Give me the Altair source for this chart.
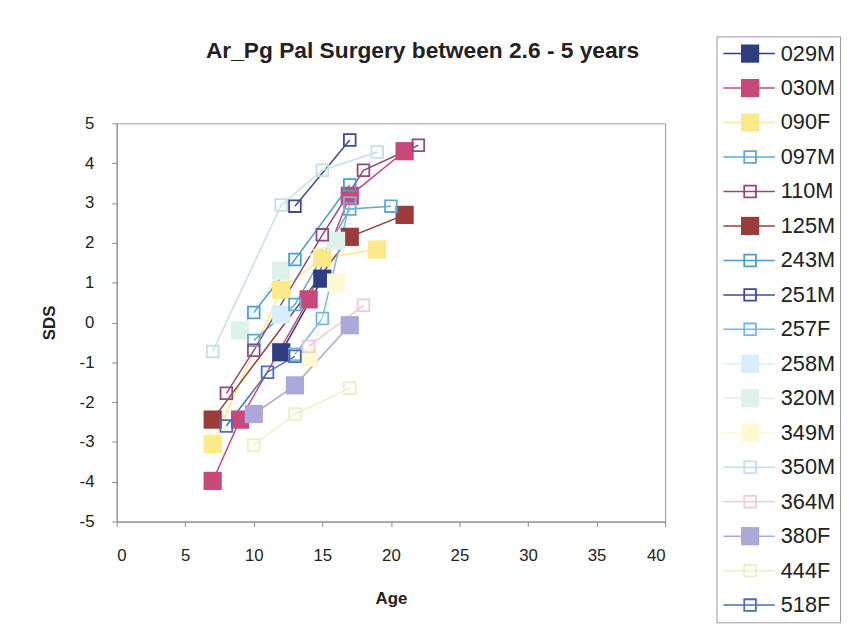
import altair as alt
import pandas as pd

SERIES = ["029M", "030M", "090F", "097M", "110M", "125M", "243M", "251M", "257F",
          "258M", "320M", "349M", "350M", "364M", "380F", "444F", "518F"]
AGES = [
    [12, 15],
    [7, 9, 14, 17, 21],
    [7, 12, 15, 19],
    [10, 13, 17, 20],
    [8, 10, 15, 18, 22],
    [7, 17, 21],
    [10, 13, 17],
    [13, 17],
    [13, 15, 17],
    [12],
    [9, 12, 16],
    [14, 16],
    [7, 12, 15, 19],
    [14, 18],
    [10, 13, 17],
    [10, 13, 17],
    [8, 11, 13],
]
SDS = [
    [-0.75, 1.1],
    [-3.98, -2.44, 0.58, 3.18, 4.3],
    [-3.05, 0.82, 1.62, 1.83],
    [-0.45, 0.45, 2.85, 2.92],
    [-1.78, -0.7, 2.2, 3.82, 4.45],
    [-2.44, 2.15, 2.7],
    [0.25, 1.58, 3.45],
    [2.92, 4.58],
    [-0.8, 0.1, 3.0],
    [0.2],
    [-0.2, 1.3, 2.05],
    [-0.88, 1.0],
    [-0.73, 2.95, 3.82, 4.28],
    [-0.6, 0.43],
    [-2.3, -1.58, -0.07],
    [-3.08, -2.3, -1.65],
    [-2.6, -1.25, -0.85],
]
COLORS = ["#2E3F7F", "#C8487A", "#FCE98A", "#5DA9D5", "#8E4B7E", "#9A3C3C", "#4E9CCB",
          "#3D4A9A", "#78B7E0", "#D8EEFB", "#DDF2E8", "#FFF9D2", "#C3DFEC", "#EDCCD8",
          "#ADA8DA", "#EEEEC4", "#4F6DB3"]
FILLED = [True, True, True, False, False, True, False, False, False,
          True, True, True, False, False, True, False, False]

FONT = "Liberation Sans"

rows = []
for name, ages, vals, filled in zip(SERIES, AGES, SDS, FILLED):
    for a, v in zip(ages, vals):
        rows.append({"series": name, "age": a, "sds": v, "filled": filled})
df = pd.DataFrame(rows)
leg = pd.DataFrame({"series": SERIES, "filled": FILLED})

color = alt.Color("series:N", scale=alt.Scale(domain=SERIES, range=COLORS), legend=None)

x = alt.X("age:Q", scale=alt.Scale(domain=[0, 40], nice=False),
          axis=alt.Axis(values=list(range(0, 41, 5)), title="Age", grid=False,
                        labelFont=FONT, labelFontSize=17, labelColor="#222",
                        titleFont=FONT, titleFontSize=17, titleFontWeight="bold",
                        titleColor="#222", titlePadding=28, labelPadding=21,
                        domainColor="#888", tickColor="#888", tickSize=5))
y = alt.Y("sds:Q", scale=alt.Scale(domain=[-5, 5], nice=False),
          axis=alt.Axis(values=list(range(-5, 6)), title="SDS", grid=False,
                        labelExpr="'' + datum.value",
                        labelFont=FONT, labelFontSize=17, labelColor="#222",
                        titleFont=FONT, titleFontSize=17, titleFontWeight="bold",
                        titleColor="#222", titlePadding=21, labelPadding=18,
                        domainColor="#888", tickColor="#888", tickSize=5))

base = alt.Chart(df).encode(x=x, y=y, color=color)
lines = base.mark_line(strokeWidth=1.5).encode(detail="series:N", order="age:Q")
filled_pts = base.transform_filter("datum.filled").mark_point(
    shape="square", filled=True, size=340, opacity=1)
hollow_pts = base.transform_filter("!datum.filled").mark_point(
    shape="square", filled=False, size=140, strokeWidth=1.8, opacity=1)

main = alt.layer(lines, filled_pts, hollow_pts).properties(
    width=555, height=403,
    title=alt.TitleParams("Ar_Pg Pal Surgery between 2.6 - 5 years", font=FONT,
                          fontSize=23, fontWeight="bold", color="#222", offset=52,
                          dx=32))

spacer = alt.Chart(pd.DataFrame({"t": [""]})).mark_text().encode(text="t:N").properties(
    width=555, height=1, view=alt.ViewBackground(stroke="transparent"))

left = alt.vconcat(spacer, main, spacing=87, bounds="flush")

ly = alt.Y("series:N", scale=alt.Scale(domain=SERIES, type="point", padding=0.5), axis=None)
lbase = alt.Chart(leg).encode(y=ly, color=color)
lrule = lbase.mark_rule(strokeWidth=1.5).encode(x=alt.value(7), x2=alt.value(59))
lfill = lbase.transform_filter("datum.filled").mark_point(
    shape="square", filled=True, size=340, opacity=1).encode(x=alt.value(34))
lhollow = lbase.transform_filter("!datum.filled").mark_point(
    shape="square", filled=False, size=140, strokeWidth=1.8, opacity=1).encode(x=alt.value(34))
ltext = alt.Chart(leg).mark_text(align="left", baseline="middle", font=FONT,
                                 fontSize=22, color="#222").encode(
    y=ly, x=alt.value(65), text="series:N")
legend = alt.layer(lrule, lfill, lhollow, ltext).properties(width=125, height=593)

chart = alt.hconcat(left, legend, spacing=50).properties(
    padding={"left": 32, "top": 19, "right": 0, "bottom": 0}
).configure_view(stroke="#999", strokeWidth=1)

chart.save("out.html", embed_options={"renderer": "svg", "actions": False})
